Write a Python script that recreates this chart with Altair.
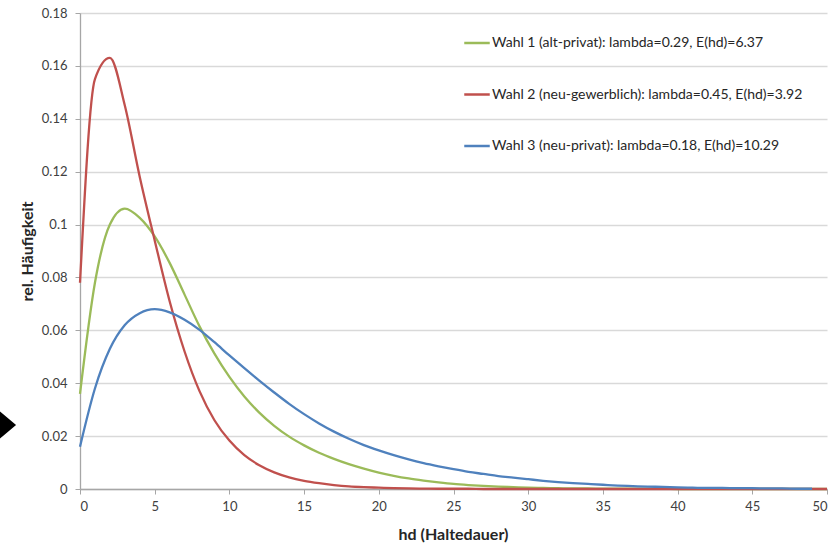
import altair as alt
import pandas as pd

FONT = "Lato"

hd_values = list(range(0, 51))

labels = [
    "Wahl 1 (alt-privat): lambda=0.29, E(hd)=6.37",
    "Wahl 2 (neu-gewerblich): lambda=0.45, E(hd)=3.92",
    "Wahl 3 (neu-privat): lambda=0.18, E(hd)=10.29",
]
colors = ["#9BBB59", "#C0504D", "#4F81BD"]

wahl1 = [0.036, 0.078, 0.100, 0.106, 0.1025, 0.0955, 0.0855, 0.0735, 0.0615, 0.0512,
         0.0424, 0.035, 0.0289, 0.0239, 0.0198, 0.0165, 0.0137, 0.0114, 0.0094, 0.0077,
         0.0062, 0.005, 0.004, 0.0032, 0.0025, 0.0019, 0.0015, 0.0012, 0.0009, 0.0007,
         0.0005, 0.0004, 0.0003, 0.0002, 0.0002, 0.0001, 0.0001, 0.0001, 0.0001, 0.0001,
         0.0, 0.0, 0.0, 0.0, 0.0, 0.0, 0.0, 0.0, 0.0, 0.0, 0.0]

wahl2 = [0.078, 0.155, 0.163, 0.145, 0.118, 0.094, 0.071, 0.052, 0.037, 0.026,
         0.0183, 0.0128, 0.009, 0.0063, 0.0044, 0.0031, 0.0022, 0.0015, 0.001, 0.0007,
         0.0005, 0.0003, 0.0002, 0.00015, 0.0001, 0.0001, 0.0001, 0.0, 0.0, 0.0,
         0.0, 0.0, 0.0, 0.0, 0.0, 0.0, 0.0, 0.0, 0.0, 0.0,
         0.0, 0.0, 0.0, 0.0, 0.0, 0.0, 0.0, 0.0, 0.0, 0.0, 0.0]

wahl3 = [0.016, 0.038, 0.053, 0.062, 0.0665, 0.068, 0.0668, 0.064, 0.0602, 0.0555,
         0.0505, 0.0457, 0.041, 0.0365, 0.0322, 0.0283, 0.0248, 0.0217, 0.019, 0.0166,
         0.0146, 0.0128, 0.0112, 0.0098, 0.0086, 0.0075, 0.0065, 0.0057, 0.0049, 0.0043,
         0.0037, 0.0031, 0.0026, 0.0022, 0.0019, 0.0016, 0.0013, 0.0011, 0.0009, 0.0008,
         0.0006, 0.0005, 0.0004, 0.0004, 0.0003, 0.0003, 0.0002, 0.0002, 0.0001, 0.0001]

x_ticks = [0, 5, 10, 15, 20, 25, 30, 35, 40, 45, 50]
y_ticks = [0, 0.02, 0.04, 0.06, 0.08, 0.1, 0.12, 0.14, 0.16, 0.18]

rows = []
for name, series in zip(labels, [wahl1, wahl2, wahl3]):
    for i, v in enumerate(series):
        rows.append({"hd": hd_values[i], "freq": v, "serie": name})
df = pd.DataFrame(rows)

lines = alt.Chart(df).mark_line(strokeWidth=2.3, interpolate="monotone").encode(
    x=alt.X("hd:Q",
            scale=alt.Scale(domain=[0, 50], nice=False, zero=False),
            axis=alt.Axis(values=x_ticks, title="hd (Haltedauer)", grid=False,
                          tickSize=5, labelPadding=6,
                          titleX=373, titleY=45, titleAlign="center",
                          titleBaseline="middle")),
    y=alt.Y("freq:Q",
            scale=alt.Scale(domain=[0, 0.18], nice=False),
            axis=alt.Axis(values=y_ticks, format="~g", title="rel. Häufigkeit",
                          grid=True, tickSize=5, labelPadding=8,
                          titleAngle=-90, titleX=-53, titleY=238,
                          titleAlign="center", titleBaseline="middle")),
    color=alt.Color("serie:N",
                    scale=alt.Scale(domain=labels, range=colors),
                    legend=alt.Legend(title=None, orient="none", legendX=383, legendY=16,
                                      symbolType="stroke", symbolSize=650,
                                      symbolStrokeWidth=2.5, labelOffset=1,
                                      rowPadding=30.5, labelFontSize=14,
                                      labelFont=FONT, labelColor="#262626",
                                      labelLimit=400)),
    detail="serie:N",
    order=alt.Order("hd:Q"),
)

pointer = alt.Chart(alt.Data(values=[{"a": 1}])).mark_point(
    shape="M-0.6,-1L0.6,0L-0.6,1Z", filled=True, color="black", opacity=1,
    size=729, strokeWidth=0,
).encode(x=alt.value(-72), y=alt.value(412))

chart = alt.layer(lines, pointer).properties(
    width=747, height=476,
    autosize=alt.AutoSizeParams(type="none"),
    padding={"left": 80, "top": 13, "right": 12, "bottom": 54},
).configure_view(stroke=None).configure_axis(
    labelFont=FONT, titleFont=FONT, labelFontSize=13, titleFontSize=16,
    titleFontWeight="bold", labelColor="#404040", titleColor="#262626",
    domainColor="#A6A6A6", tickColor="#A6A6A6", gridColor="#D9D9D9",
    gridWidth=1.3, domainWidth=1.3,
)

chart.save("out.html", embed_options={"renderer": "svg", "actions": False})
